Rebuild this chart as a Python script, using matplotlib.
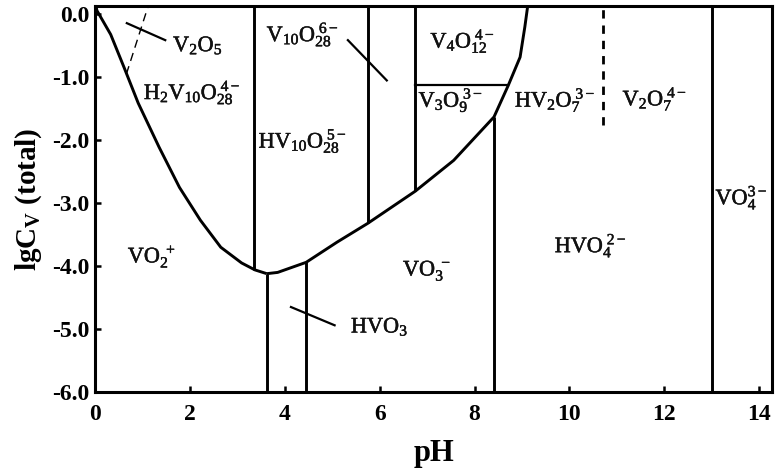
import matplotlib
matplotlib.use("Agg")
import matplotlib.pyplot as plt
import matplotlib.patheffects as pe

plt.rcParams['font.family'] = ['Liberation Serif', 'DejaVu Serif']
plt.rcParams['mathtext.fontset'] = 'custom'
plt.rcParams['mathtext.rm'] = 'Liberation Serif'
plt.rcParams['mathtext.it'] = 'Liberation Serif:italic'
plt.rcParams['mathtext.bf'] = 'Liberation Serif:bold'

# ---- data ----
left_curve_ph = [0.02, 0.04, 0.33, 0.61, 0.91, 1.35, 1.78, 2.22, 2.65, 3.09, 3.37, 3.62]
left_curve_lg = [0.13, 0.06, -0.32, -0.84, -1.41, -2.11, -2.75, -3.27, -3.70, -3.95, -4.06, -4.12]
right_curve_ph = [3.62, 3.85, 4.45, 5.1, 5.75, 6.75, 7.56, 8.41, 8.71, 8.96, 9.06, 9.12]
right_curve_lg = [-4.12, -4.10, -3.94, -3.62, -3.32, -2.81, -2.32, -1.63, -1.13, -0.68, -0.2, 0.13]

vert_ph = [3.35, 5.75, 6.75, 3.62, 4.45, 8.41, 13.0]
vert_lo = [-4.06, -3.32, -2.81, -6.0, -6.0, -6.0, -6.0]
vert_hi = [0.13, 0.13, 0.13, -4.12, -3.94, -1.63, 0.13]

horiz_lg = -1.13
horiz_ph = [6.75, 8.71]

dash_ph = 10.7
dash_lg = [-1.76, 0.13]

v2o5_dash_ph = [0.66, 1.12]
v2o5_dash_lg = [-0.95, 0.13]

leader_ph = [[0.67, 1.48], [5.33, 6.15], [4.13, 5.05]]
leader_lg = [[-0.14, -0.41], [-0.41, -1.05], [-4.65, -4.94]]

labels = [r'V$_2$O$_5$', r'H$_2$V$_{10}$O$_{28}^{\ 4-}$', r'V$_{10}$O$_{28}^{\ 6-}$',
          r'HV$_{10}$O$_{28}^{\ 5-}$', r'V$_4$O$_{12}^{\ 4-}$', r'V$_3$O$_9^{\ 3-}$',
          r'HV$_2$O$_7^{\ 3-}$', r'V$_2$O$_7^{\ 4-}$', r'VO$_4^{3-}$', r'VO$_2^{\ +}$',
          r'VO$_3^{\ -}$', r'HVO$_4^{\ 2-}$', r'HVO$_3$']
label_ph = [2.17, 2.05, 4.38, 4.38, 7.75, 7.5, 9.7, 11.8, 13.63, 1.2, 7.0, 10.45, 6.0]
label_lg = [-0.5, -1.25, -0.33, -2.02, -0.43, -1.37, -1.37, -1.35, -2.92, -3.85, -4.08, -3.68, -4.97]

xticks = [0, 2, 4, 6, 8, 10, 12, 14]
yticks = [0.0, -1.0, -2.0, -3.0, -4.0, -5.0, -6.0]

# ---- figure ----
fig = plt.figure(figsize=(7.79, 4.74), dpi=100)
ax = fig.add_axes([0.122, 0.173, 0.869, 0.814])

lw = 2.1
ax.plot(left_curve_ph, left_curve_lg, color='black', lw=lw, solid_capstyle='butt')
ax.plot(right_curve_ph, right_curve_lg, color='black', lw=lw, solid_capstyle='butt')
for x, lo, hi in zip(vert_ph, vert_lo, vert_hi):
    ax.plot([x, x], [lo, hi], color='black', lw=lw, solid_capstyle='butt')
ax.plot(horiz_ph, [horiz_lg, horiz_lg], color='black', lw=1.6)
ax.plot([dash_ph, dash_ph], dash_lg, color='black', lw=2.0, linestyle=(0, (3, 2.5)))
ax.plot(v2o5_dash_ph, v2o5_dash_lg, color='black', lw=1.0, linestyle=(0, (6, 4)))
for xs, ys in zip(leader_ph, leader_lg):
    ax.plot(xs, ys, color='black', lw=1.6)

thick = [pe.withStroke(linewidth=0.35, foreground='#111111')]
for t, x, y in zip(labels, label_ph, label_lg):
    ax.text(x, y, t, ha='center', va='center', fontsize=16, color='#111111',
            path_effects=thick)

ax.set_xlim(0, 14.27)
ax.set_ylim(-6.0, 0.13)
ax.set_xticks(xticks)
ax.set_xticklabels([str(v) for v in xticks], fontsize=17, fontweight='bold')
ax.set_yticks(yticks)
ax.set_yticklabels(['%.1f' % v for v in yticks], fontsize=17, fontweight='bold')
ax.tick_params(direction='in', length=4, width=1.8)
ax.tick_params(axis='x', pad=9)
ax.tick_params(axis='y', pad=4)
for s in ax.spines.values():
    s.set_linewidth(2.2)

ax.set_xlabel('pH', fontsize=22, fontweight='bold', labelpad=10)
ax.set_ylabel(r'lgC$_\mathbf{V}$ (total)', fontsize=21, fontweight='bold', labelpad=6)

fig.savefig('out.png', dpi=100)
